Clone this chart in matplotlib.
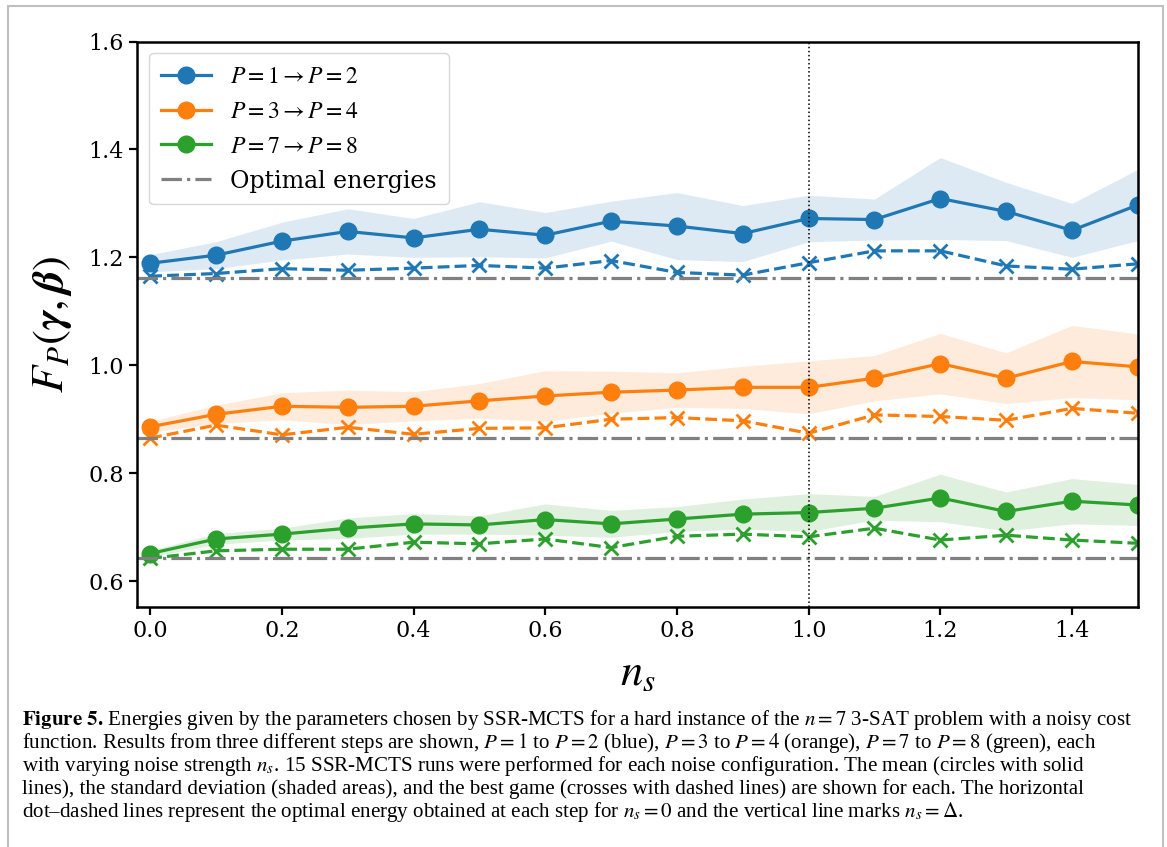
import matplotlib
matplotlib.use("Agg")
import matplotlib.pyplot as plt
import numpy as np
from matplotlib.patches import Rectangle

plt.rcParams['font.family'] = 'DejaVu Serif'
plt.rcParams['mathtext.fontset'] = 'stix'

# noise strength
ns = [0.0, 0.1, 0.2, 0.3, 0.4, 0.5, 0.6, 0.7, 0.8, 0.9, 1.0, 1.1, 1.2, 1.3, 1.4, 1.5]

# P=1 -> P=2
mean_12 = [1.189, 1.204, 1.230, 1.248, 1.236, 1.252, 1.241, 1.267, 1.258, 1.244,
           1.272, 1.270, 1.309, 1.285, 1.250, 1.297]
std_12 = [0.016, 0.025, 0.035, 0.042, 0.036, 0.051, 0.042, 0.037, 0.062, 0.052,
          0.043, 0.038, 0.076, 0.054, 0.050, 0.066]
best_12 = [1.165, 1.170, 1.179, 1.176, 1.180, 1.185, 1.180, 1.194, 1.172, 1.167,
           1.190, 1.212, 1.212, 1.184, 1.178, 1.188]
opt_12 = 1.162

# P=3 -> P=4
mean_34 = [0.886, 0.909, 0.924, 0.922, 0.924, 0.934, 0.943, 0.950, 0.954, 0.959,
           0.959, 0.976, 1.003, 0.976, 1.007, 0.997]
std_34 = [0.010, 0.017, 0.025, 0.032, 0.027, 0.032, 0.047, 0.039, 0.032, 0.039,
          0.049, 0.042, 0.056, 0.047, 0.067, 0.061]
best_34 = [0.865, 0.889, 0.871, 0.885, 0.872, 0.883, 0.884, 0.900, 0.903, 0.897,
           0.874, 0.908, 0.905, 0.898, 0.920, 0.911]
opt_34 = 0.866

# P=7 -> P=8
mean_78 = [0.651, 0.678, 0.687, 0.698, 0.706, 0.704, 0.714, 0.706, 0.715, 0.724,
           0.727, 0.735, 0.754, 0.729, 0.748, 0.741]
std_78 = [0.006, 0.010, 0.011, 0.019, 0.019, 0.017, 0.029, 0.025, 0.023, 0.028,
          0.035, 0.022, 0.044, 0.036, 0.042, 0.038]
best_78 = [0.642, 0.656, 0.659, 0.659, 0.672, 0.669, 0.678, 0.662, 0.683, 0.687,
           0.682, 0.698, 0.676, 0.685, 0.676, 0.670]
opt_78 = 0.642

labels = [r'$P=1\rightarrow P=2$', r'$P=3\rightarrow P=4$', r'$P=7\rightarrow P=8$']
colors = ['C0', 'C1', 'C2']

caption = [
    r"$\mathbf{Figure\ 5.}\,$Energies given by the parameters chosen by SSR-MCTS for a hard instance of the $n=7$ 3-SAT problem with a noisy cost",
    r"function. Results from three different steps are shown, $P=1$ to $P=2$ (blue), $P=3$ to $P=4$ (orange), $P=7$ to $P=8$ (green), each",
    r"with varying noise strength $n_s$. 15 SSR-MCTS runs were performed for each noise configuration. The mean (circles with solid",
    r"lines), the standard deviation (shaded areas), and the best game (crosses with dashed lines) are shown for each. The horizontal",
    r"dot–dashed lines represent the optimal energy obtained at each step for $n_s = 0$ and the vertical line marks $n_s = \Delta$.",
]

fig = plt.figure(figsize=(11.67, 8.47), dpi=100)
ax = fig.add_axes([0.1174, 0.2834, 0.8576, 0.6676])

x = np.array(ns)
groups = [(mean_12, std_12, best_12, opt_12),
          (mean_34, std_34, best_34, opt_34),
          (mean_78, std_78, best_78, opt_78)]

for (m, s, b, o), c, lab in zip(groups, colors, labels):
    m = np.array(m)
    s = np.array(s)
    ax.fill_between(x, m - s, m + s, color=c, alpha=0.15, lw=0)
    ax.plot(x, m, '-o', color=c, lw=2.3, ms=12, label=lab)
    ax.plot(x, b, '--x', color=c, lw=2.3, ms=9.5, mew=2)

for i, o in enumerate([opt_12, opt_34, opt_78]):
    ax.axhline(o, color='gray', ls='-.', lw=2.3,
               label='Optimal energies' if i == 0 else None)

ax.axvline(1.0, color='black', ls=':', lw=1.1)

ax.set_xlim(-0.02, 1.5)
ax.set_ylim(0.552, 1.6)
ax.set_xticks([0.0, 0.2, 0.4, 0.6, 0.8, 1.0, 1.2, 1.4])
ax.set_yticks([0.6, 0.8, 1.0, 1.2, 1.4, 1.6])
ax.tick_params(labelsize=16, width=1.6, length=6)
for sp in ax.spines.values():
    sp.set_linewidth(1.8)

ax.set_xlabel(r'$n_s$', fontsize=32, labelpad=6)
ax.set_ylabel(r'$F_P(\boldsymbol{\gamma},\boldsymbol{\beta})$', fontsize=32, labelpad=10)

ax.legend(loc='upper left', fontsize=17, handlelength=2.15, borderpad=0.5)

for i, line in enumerate(caption):
    fig.text(22 / 1167, 1 - (720 + 23 * i) / 847, line, fontsize=15.1,
             family='Liberation Serif', math_fontfamily='stix', va='center', ha='left')

fig.patches.append(Rectangle((8 / 1167, -0.05), (1163 - 8) / 1167, 1.05 - 6 / 847,
                             transform=fig.transFigure, fill=False,
                             edgecolor='#c0c0c0', lw=1.5))

fig.savefig('out.png', dpi=100)
